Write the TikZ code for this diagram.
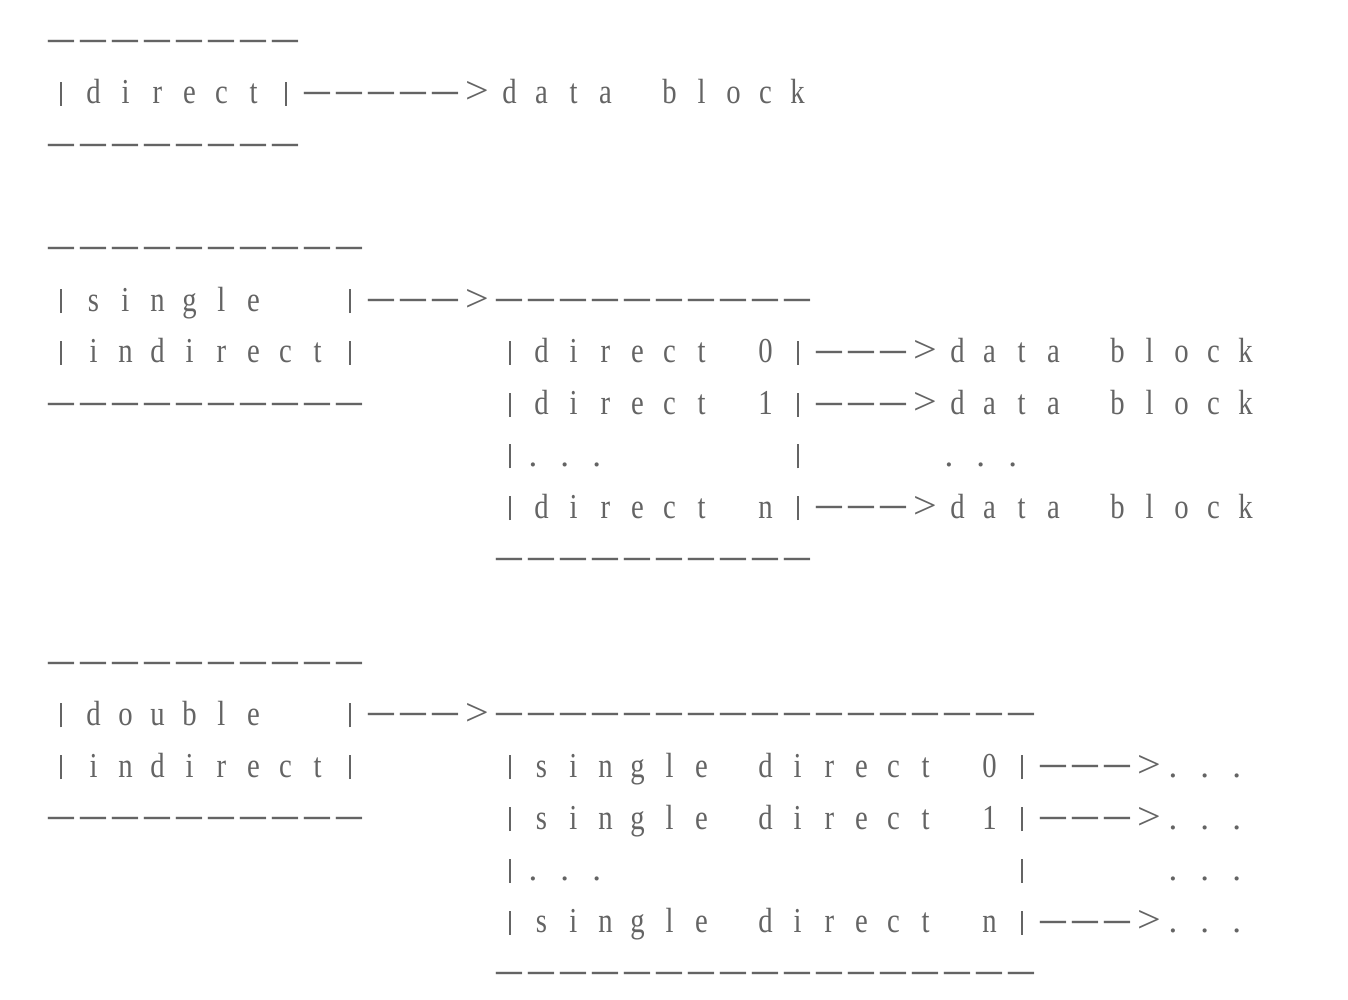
\documentclass[tikz,border=0pt]{standalone}
\usepackage{fontspec}
\usepackage{graphicx}
\usetikzlibrary{positioning}
\newfontfamily\letterfont[FakeStretch=0.82]{Liberation Serif}
\newfontfamily\signfont{Liberation Serif}
\definecolor{inkgray}{RGB}{100,100,100}
\newlength\px \setlength\px{0.5pt}
\newlength\cw \setlength\cw{32\px}
% one character cell of the listing
\newcommand\dashglyph{{\signfont\raisebox{-0.5\px}{\scalebox{0.74}[1.35]{—}}}}
\newcommand\barglyph{\rule[-2\px]{2\px}{24\px}}
\newcommand\gtglyph{{\signfont\scalebox{1.2}[1.1]{>}}}
\newcommand\dotglyph{\makebox[\cw][l]{\kern3\px\signfont.}}
\def\onecell#1{\makebox[\cw][c]{\ifx#1-\dashglyph\else\ifx#1*\else\ifx#1=\barglyph\else\ifx#1+\dotglyph\else\ifx#1>\gtglyph\else{\letterfont#1}\fi\fi\fi\fi\fi}}
\def\runcells#1{\ifx#1\relax\else\onecell#1\expandafter\runcells\fi}
\tikzstyle{rowtext}=[inner sep=0pt, outer sep=0pt, anchor=base west, text=inkgray, font=\fontsize{17.5pt}{21pt}\selectfont]

\begin{document}
\begin{tikzpicture}[x=0.5pt, y=-0.5pt]
    \fill[white] (0,0) rectangle (1348,1000);
    \useasboundingbox (0,0) rectangle (1348,1000);
    % Every row of the listing, one cell per character (* blank, = bar, + dot)
    \foreach \row/\name/\txt in {
        0/directtop/--------,
        1/directrow/=direct=----->data*block,
        2/directbot/--------,
        4/singletop/----------,
        5/singlerow/=single**=--->----------,
        6/singleind/=indirect=****=direct*0=--->data*block,
        7/singlebot/----------****=direct*1=--->data*block,
        8/singledots/**************=+++*****=****+++,
        9/singlelast/**************=direct*n=--->data*block,
        10/singletab/**************----------,
        12/doubletop/----------,
        13/doublerow/=double**=--->-----------------,
        14/doubleind/=indirect=****=single*direct*0=--->+++,
        15/doublebot/----------****=single*direct*1=--->+++,
        16/doubledots/**************=+++************=****+++,
        17/doublelast/**************=single*direct*n=--->+++,
        18/doubletab/**************-----------------}
        \node[rowtext] (\name) at (45.5, {40+51.8*\row+12}) {\expandafter\runcells\txt\relax};
\end{tikzpicture}
\end{document}
